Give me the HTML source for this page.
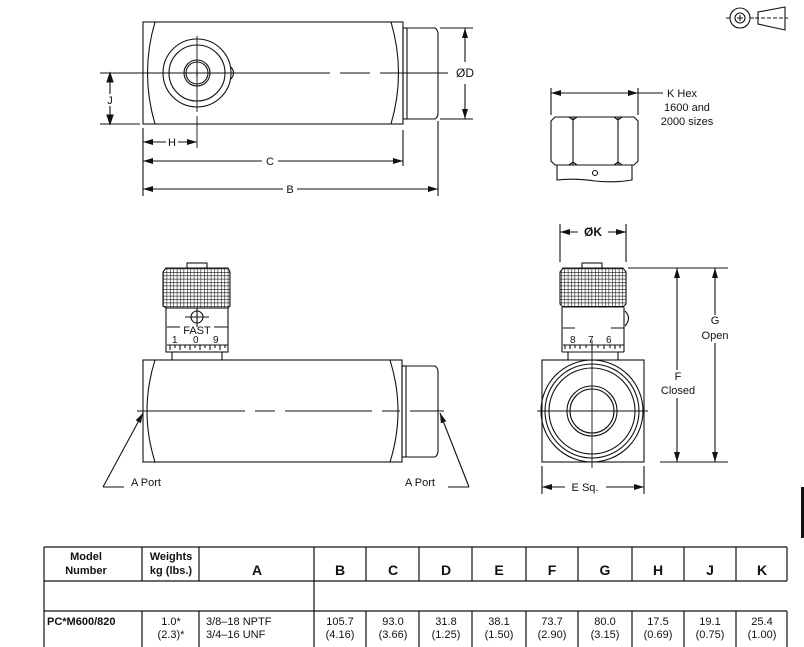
<!DOCTYPE html>
<html><head><style>
html,body{margin:0;padding:0;background:#fff;}
svg{display:block;}
text{font-family:"Liberation Sans",Arial,sans-serif;fill:#111;}
</style></head><body>
<svg width="804" height="647" viewBox="0 0 804 647" xmlns="http://www.w3.org/2000/svg">
<defs>
<marker id="ar" markerWidth="10" markerHeight="6" refX="10" refY="3" orient="auto" markerUnits="userSpaceOnUse"><path d="M0,0 L10,3 L0,6 z" fill="#111"/></marker>
<pattern id="kn" width="3.4" height="3.4" patternUnits="userSpaceOnUse"><rect width="3.4" height="3.4" fill="#fff"/><path d="M0,0 V3.4 M0,0 H3.4" stroke="#111" stroke-width="1.1"/></pattern>
</defs>
<g fill="none" stroke="#111" stroke-width="1.1">
<!-- TOP VIEW -->
<rect x="143" y="22" width="260" height="102"/>
<path d="M155,22 Q140,73 155,124 M391,22 Q406,73 391,124"/>
<rect x="403" y="28" width="4" height="91"/>
<path d="M407,28 H435 Q438,30 438,34 V113 Q438,117 435,119 H407"/>
<circle cx="197" cy="73" r="34"/><circle cx="197" cy="73" r="28"/>
<circle cx="197" cy="73" r="13"/><circle cx="197" cy="73" r="11"/>
<path d="M231,67 Q236,73 231,79"/>
<path d="M193,73 H201 M197,69 V77"/>
<path d="M100,73 H330 M340,73 H370 M380,73 H448" stroke-width="0.9"/>
<path d="M197,36 V112 M197,116 V148" stroke-width="0.9"/>
<path d="M100,124 H140"/>
<line x1="110" y1="73" x2="110" y2="94"/><line x1="110" y1="106" x2="110" y2="124"/>
<path d="M110,73 l-3,9 h6z M110,124 l-3,-9 h6z" fill="#111"/>
<path d="M143,128 V196 M403,130 V166 M438,121 V196"/>
<line x1="166" y1="142" x2="143" y2="142" marker-end="url(#ar)"/>
<line x1="178" y1="142" x2="197" y2="142" marker-end="url(#ar)"/>
<line x1="262" y1="161" x2="143" y2="161" marker-end="url(#ar)"/>
<line x1="278" y1="161" x2="403" y2="161" marker-end="url(#ar)"/>
<line x1="283" y1="189" x2="143" y2="189" marker-end="url(#ar)"/>
<line x1="297" y1="189" x2="438" y2="189" marker-end="url(#ar)"/>
<path d="M440,28 H473 M440,119 H473"/>
<line x1="465" y1="62" x2="465" y2="28" marker-end="url(#ar)"/>
<line x1="465" y1="84" x2="465" y2="119" marker-end="url(#ar)"/>
<!-- HEX VIEW -->
<path d="M551,88 V115 M638,88 V115"/>
<line x1="594" y1="93" x2="551" y2="93" marker-end="url(#ar)"/>
<line x1="594" y1="93" x2="638" y2="93" marker-end="url(#ar)"/>
<path d="M638,93 H663"/>
<path d="M555,117 H634 L638,121 V161 L634,165 H555 L551,161 V121 Z"/>
<path d="M573,117 V165 M618,117 V165 M569,117 L573,120 L577,117 M614,117 L618,120 L622,117 M569,165 L573,162 L577,165 M614,165 L618,162 L622,165"/>
<path d="M557,165 V180 Q575,178 595,181 Q615,183 632,180 V165"/>
<circle cx="595" cy="173" r="2.5"/>
<!-- SYMBOL -->
<circle cx="740" cy="18" r="10"/><circle cx="740" cy="18" r="5"/>
<path d="M737,18 h6 M740,15 v6 M726,18 h4 M750,18 h4"/>
<path d="M758,12 L785,7 V30 L758,24 Z"/>
<path d="M755,18 H788" stroke-dasharray="4,2"/>
<!-- SIDE VIEW -->
<rect x="187" y="263" width="20" height="5"/>
<path d="M166,268 L163,272 V306 L166,308 H228 L230,306 V272 L228,268 Z" fill="url(#kn)"/>
<rect x="166" y="308" width="62" height="44"/>
<circle cx="197" cy="317" r="6"/><path d="M185,317 H209 M197,308 V327"/>
<path d="M167,327 H180 M214,327 H228"/>
<path d="M167,345 H228"/>
<path d="M170,345 v5 M175,345 v3 M180,345 v5 M185,345 v3 M190,345 v5 M195,345 v3 M200,345 v5 M205,345 v3 M210,345 v5 M215,345 v3 M220,345 v5 M225,345 v3"/>
<path d="M172,352 V360 M222,352 V360"/>
<rect x="143" y="360" width="259" height="102"/>
<path d="M155,360 Q139,411 155,462 M390,360 Q406,411 390,462"/>
<rect x="402" y="366" width="4" height="91"/>
<path d="M406,366 H435 Q438,368 438,372 V451 Q438,455 435,457 H406"/>
<path d="M137,411 H245 M255,411 H275 M285,411 H372 M382,411 H400 M410,411 H444" stroke-width="0.9"/>
<line x1="103" y1="487" x2="143" y2="413" marker-end="url(#ar)"/>
<path d="M103,487 H124"/>
<line x1="469" y1="487" x2="440" y2="413" marker-end="url(#ar)"/>
<path d="M448,487 H469"/>
<!-- FRONT VIEW -->
<rect x="582" y="263" width="20" height="5"/>
<path d="M563,268 L560,272 V304 L563,307 H623 L626,304 V272 L623,268 Z" fill="url(#kn)"/>
<path d="M562,307 V352 M624,307 V352 M562,352 H624"/>
<path d="M625,311 Q632,318 625,326"/>
<path d="M563,328 H575 M611,328 H624"/>
<path d="M563,345 H624 M565,345 v4 M570,345 v4 M575,345 v3 M580,345 v4 M586,345 v3 M592,345 v5 M598,345 v3 M604,345 v4 M610,345 v3 M615,345 v4 M620,345 v3"/>
<path d="M568,352 V360 M618,352 V360"/>
<rect x="542" y="360" width="102" height="102"/>
<circle cx="592" cy="411" r="51"/><circle cx="592" cy="411" r="47"/><circle cx="592" cy="411" r="43"/>
<circle cx="592" cy="411" r="25"/><circle cx="592" cy="411" r="22"/>
<path d="M537,411 H648 M592,340 V468" stroke-width="0.9"/>
<path d="M560,224 V262 M626,224 V262"/>
<line x1="578" y1="232" x2="560" y2="232" marker-end="url(#ar)"/>
<line x1="608" y1="232" x2="626" y2="232" marker-end="url(#ar)"/>
<path d="M628,268 H728 M660,462 H728"/>
<line x1="677" y1="370" x2="677" y2="268" marker-end="url(#ar)"/>
<line x1="677" y1="398" x2="677" y2="462" marker-end="url(#ar)"/>
<line x1="715" y1="315" x2="715" y2="268" marker-end="url(#ar)"/>
<line x1="715" y1="343" x2="715" y2="462" marker-end="url(#ar)"/>
<path d="M542,466 V494 M644,466 V494"/>
<line x1="565" y1="487" x2="542" y2="487" marker-end="url(#ar)"/>
<line x1="606" y1="487" x2="644" y2="487" marker-end="url(#ar)"/>
<!-- TABLE -->
<g stroke-width="1.2">
<path d="M44,547 H787 M44,581 H787 M44,611 H787"/>
<path d="M44,547 V647 M142,547 V581 M142,611 V647 M199,547 V581 M199,611 V647 M314,547 V647 M366,547 V581 M366,611 V647 M419,547 V581 M419,611 V647 M472,547 V581 M472,611 V647 M526,547 V581 M526,611 V647 M578,547 V581 M578,611 V647 M632,547 V581 M632,611 V647 M684,547 V581 M684,611 V647 M736,547 V581 M736,611 V647 M787,547 V581 M787,611 V647"/>
</g>
</g>
<rect x="801" y="487" width="3" height="51" fill="#111"/>
<!-- TEXT -->
<g font-size="11">
<text x="110" y="104" text-anchor="middle">J</text>
<text x="172" y="146" text-anchor="middle">H</text>
<text x="270" y="165" text-anchor="middle">C</text>
<text x="290" y="193" text-anchor="middle">B</text>
<text x="465" y="77" text-anchor="middle" font-size="12">ØD</text>
<text x="667" y="97">K Hex</text>
<text x="687" y="111" text-anchor="middle">1600 and</text>
<text x="687" y="125" text-anchor="middle">2000 sizes</text>
<text x="131" y="486">A Port</text>
<text x="405" y="486">A Port</text>
<text x="593" y="236" text-anchor="middle" font-weight="bold" font-size="12">ØK</text>
<text x="715" y="324" text-anchor="middle">G</text>
<text x="715" y="339" text-anchor="middle">Open</text>
<text x="678" y="380" text-anchor="middle">F</text>
<text x="678" y="394" text-anchor="middle">Closed</text>
<text x="585" y="491" text-anchor="middle">E Sq.</text>
</g>
<g font-size="10" font-family="Liberation Mono,monospace">
<text x="197" y="334" text-anchor="middle" font-size="11" font-family="Liberation Sans,sans-serif">FAST</text>
<text x="172" y="343">1</text><text x="193" y="343">0</text><text x="213" y="343">9</text>
<text x="570" y="343">8</text><text x="588" y="343">7</text><text x="606" y="343">6</text>
</g>
<g font-size="11" font-weight="bold" text-anchor="middle">
<text x="86" y="560">Model</text><text x="86" y="574">Number</text>
<text x="171" y="560">Weights</text><text x="171" y="574">kg (lbs.)</text>
</g>
<g font-size="14" font-weight="bold" text-anchor="middle">
<text x="257" y="575">A</text><text x="340" y="575">B</text><text x="393" y="575">C</text><text x="446" y="575">D</text><text x="499" y="575">E</text><text x="552" y="575">F</text><text x="605" y="575">G</text><text x="658" y="575">H</text><text x="710" y="575">J</text><text x="762" y="575">K</text>
</g>
<g font-size="11">
<text x="47" y="625" font-weight="bold">PC*M600/820</text>
<text x="171" y="625" text-anchor="middle">1.0*</text><text x="171" y="638" text-anchor="middle">(2.3)*</text>
<text x="206" y="625">3/8–18 NPTF</text><text x="206" y="638">3/4–16 UNF</text>
</g>
<g font-size="11" text-anchor="middle">
<text x="340" y="625">105.7</text><text x="340" y="638">(4.16)</text>
<text x="393" y="625">93.0</text><text x="393" y="638">(3.66)</text>
<text x="446" y="625">31.8</text><text x="446" y="638">(1.25)</text>
<text x="499" y="625">38.1</text><text x="499" y="638">(1.50)</text>
<text x="552" y="625">73.7</text><text x="552" y="638">(2.90)</text>
<text x="605" y="625">80.0</text><text x="605" y="638">(3.15)</text>
<text x="658" y="625">17.5</text><text x="658" y="638">(0.69)</text>
<text x="710" y="625">19.1</text><text x="710" y="638">(0.75)</text>
<text x="762" y="625">25.4</text><text x="762" y="638">(1.00)</text>
</g>
</svg>
</body></html>
